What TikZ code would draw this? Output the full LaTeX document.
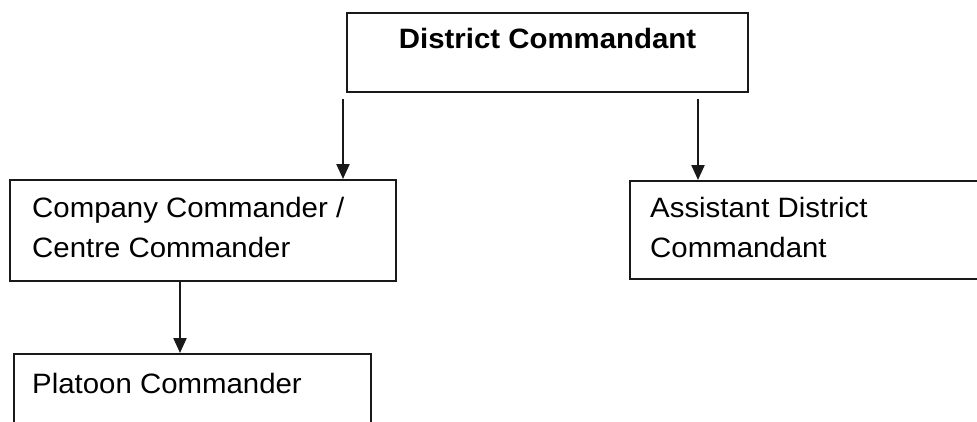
\documentclass[tikz,border=0pt]{standalone}
\usepackage{fontspec}
\setmainfont{Liberation Sans}[FakeStretch=1.05]
\usetikzlibrary{arrows.meta,calc}
\begin{document}
\begin{tikzpicture}[x=1pt,y=-1pt,
  box/.style={draw=black!90, line width=2.2pt, inner sep=0pt, anchor=north west},
  lbl/.style={anchor=base west, inner sep=0pt, align=left, font=\fontsize{28}{40}\selectfont},
  arr/.style={draw=black!90, line width=2.2pt, -{Triangle[length=15pt,width=13pt]}}]
\fill[white] (0,0) rectangle (977,421);
\useasboundingbox (0,0) rectangle (977,421);
% boxes
\node[box, minimum width=401pt, minimum height=79pt] (dc) at (346,12) {};
\node[box, minimum width=386pt, minimum height=101pt] (cc) at (9,179) {};
\node[box, minimum width=380pt, minimum height=98pt] (ad) at (629,180) {};
\node[box, minimum width=357pt, minimum height=100pt] (pc) at (13,353) {};
% texts
\node[lbl, anchor=base, font=\bfseries\fontsize{28}{40}\selectfont] (dct) at ($(dc.north)+(0,36)$) {District Commandant};
\node[lbl] (cct) at ($(cc.north west)+(23,78)$) {Company Commander /\\Centre Commander};
\node[lbl] (adt) at ($(ad.north west)+(21,77)$) {Assistant District\\Commandant};
\node[lbl] (pct) at ($(pc.north west)+(19,40)$) {Platoon Commander};
% connectors
\draw[arr] ([shift={(-3,6)}]dc.south west) -- ([xshift=-3pt]dc.south west |- cc.north);
\draw[arr] ([shift={(352,6)}]dc.south west) -- ([xshift=352pt]dc.south west |- ad.north);
\draw[arr] ([xshift=171pt]cc.south west) -- ([xshift=171pt]cc.south west |- pc.north);
\end{tikzpicture}
\end{document}
